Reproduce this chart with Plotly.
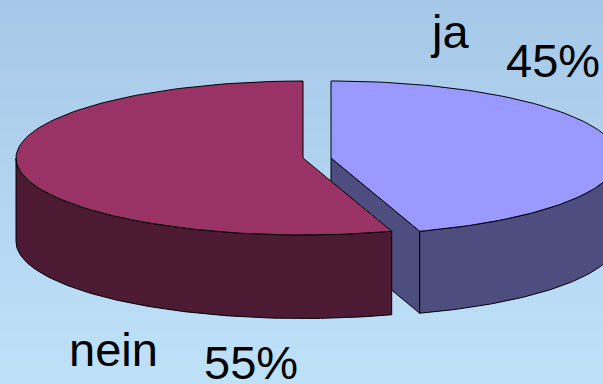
import numpy as np
import plotly.graph_objects as go

categories = ["ja", "nein"]
values = [45, 55]
top_colors = ["#9999ff", "#993366"]
side_colors = ["#4d4d80", "#4d1a33"]

W, H = 603, 384
RX, RY = 287, 77
DEPTH = [82, 83.5]
CY = 158
CX = [331, 303]


def rim(cx, a0, a1, drop=0.0):
    t = np.radians(np.linspace(a0, a1, 120))
    return cx + RX * np.sin(t), CY + drop - RY * np.cos(t)


split = 360 * values[0] / sum(values)
traces = []


def poly(x, y, color):
    x = np.append(x, x[0])
    y = np.append(y, y[0])
    traces.append(go.Scatter(x=x, y=y, mode="lines", fill="toself", fillcolor=color,
                             line=dict(color="#000000", width=1), hoverinfo="skip",
                             showlegend=False))


# background gradient
traces.append(go.Heatmap(x=[0, W], y=[0, H], z=[[0, 0], [1, 1]], zsmooth="best", showscale=False,
                         hoverinfo="skip",
                         colorscale=[[0, "#a6c8e8"], [1, "#bfe1f8"]]))

# right slice: cut face, outer wall, top
ex, ey = rim(CX[0], split, split)
poly([CX[0], ex[0], ex[0], CX[0]], [CY, ey[0], ey[0] + DEPTH[0], CY + DEPTH[0]], side_colors[0])
wx, wy = rim(CX[0], 90, split)
bx, by = rim(CX[0], split, 90, DEPTH[0])
poly(np.r_[wx, bx], np.r_[wy, by], side_colors[0])
tx, ty = rim(CX[0], 0, split)
poly(np.r_[CX[0], tx], np.r_[CY, ty], top_colors[0])

# left slice: outer wall, top
wx, wy = rim(CX[1], split, 270)
bx, by = rim(CX[1], 270, split, DEPTH[1])
poly(np.r_[wx, bx], np.r_[wy, by], side_colors[1])
tx, ty = rim(CX[1], split, 360)
poly(np.r_[CX[1], tx], np.r_[CY, ty], top_colors[1])

label_font = dict(family="Liberation Sans", size=47, color="#000000")
notes = [
    (449, 31, categories[0]),
    (553, 60, f"{values[0]}%"),
    (113, 349, categories[1]),
    (251, 362, f"{values[1]}%"),
]

fig = go.Figure(traces)
for x, y, text in notes:
    fig.add_annotation(x=x, y=y, text=text, showarrow=False, font=label_font,
                       xanchor="center", yanchor="middle")
fig.update_layout(width=W, height=H, margin=dict(l=0, r=0, t=0, b=0),
                  paper_bgcolor="#b4d4f0", plot_bgcolor="rgba(0,0,0,0)",
                  xaxis=dict(range=[0, W], visible=False, fixedrange=True),
                  yaxis=dict(range=[H, 0], visible=False, fixedrange=True))
fig.write_html("out.html", config={"displayModeBar": False},
               post_script="document.body.style.margin='0';document.documentElement.style.overflow='hidden';")
